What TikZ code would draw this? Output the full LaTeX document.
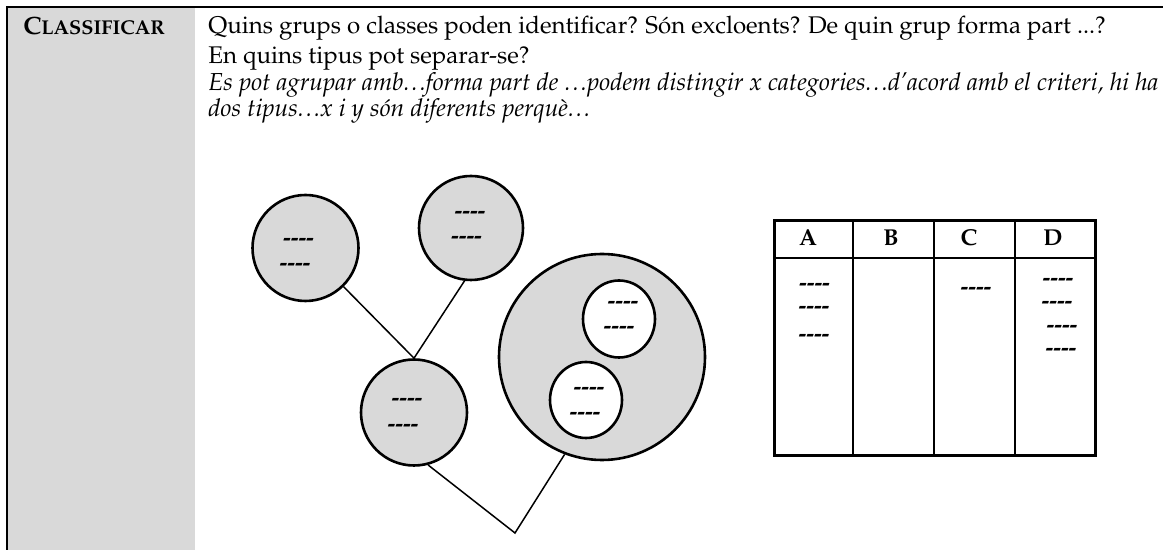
\documentclass[tikz,border=0pt]{standalone}
\usepackage[T1]{fontenc}
\usepackage{mathpazo}
\usetikzlibrary{shapes.geometric}
\definecolor{cellgray}{HTML}{D9D9D9}
\newcommand{\blanks}{\textbf{-{}-{}-{}-}}
\newcommand{\etc}{.\kern.08em.\kern.08em.}

\begin{document}
\begin{tikzpicture}[x=0.5pt,y=-0.5pt,
    txt/.style={anchor=base west,inner sep=0pt,font=\fontsize{12.05}{14}\selectfont},
    note/.style={txt,font=\fontsize{12.3}{14}\selectfont\itshape},
    group/.style={circle,draw,line width=1.3pt,fill=cellgray,inner sep=0pt},
    subgroup/.style={ellipse,draw,line width=1.3pt,fill=white,inner sep=0pt,
      minimum width=36pt,minimum height=38.5pt},
    blank/.style={anchor=mid,inner sep=0pt,font=\fontsize{11.6}{13}\selectfont},
    branch/.style={line width=0.75pt},
    head/.style={anchor=base,inner sep=0pt,font=\fontsize{11.5}{13}\selectfont\bfseries}]
  \useasboundingbox (0,0) rectangle (1163,550);
  % left cell and frame
  \fill[cellgray] (8,8) rectangle (195,550);
  \draw[line width=1.1pt] (7,550) -- (7,7) -- (1163,7);
  \node[anchor=base west,inner sep=0pt] (title) at (23,35)
    {\bfseries\fontsize{12.5}{14}\selectfont C\fontsize{10}{12}\selectfont LASSIFICAR};
  % questions
  \node[txt] (q1) at (208,34) {Quins grups o classes poden identificar? S\'on excloents? De quin grup forma part ...?};
  \node[txt] (q2) at (208,64) {En quins tipus pot separar-se?};
  \node[note] (q3) at (208,91) {Es pot agrupar amb\etc forma part de \etc podem distingir x categories\etc d'acord amb el criteri, hi ha};
  \node[note] (q4) at (208,117) {dos tipus\etc x i y s\'on diferents perqu\`e\etc};
  % tree of groups
  \node[group,minimum size=53pt] (c1) at (305.5,248) {};
  \node[group,minimum size=52pt] (c2) at (471,228) {};
  \node[group,minimum size=53pt] (c3) at (414,412.5) {};
  \node[group,minimum size=103pt] (big) at (602,357) {};
  \node[subgroup] (s1) at (619,319) {};
  \node[subgroup,minimum height=38pt] (s2) at (586,400) {};
  \coordinate (apex) at (515,533);
  \draw[branch] (c1) -- (c3.north);
  \draw[branch] (c2.-97) -- (c3.north);
  \draw[branch] (c3.-75) -- (apex) -- (big.-111);
  \node[blank] (c1a) at (298.5,241) {\blanks};
  \node[blank] (c1b) at (295,266) {\blanks};
  \node[blank] (c2a) at (470,214) {\blanks};
  \node[blank] (c2b) at (466.5,239) {\blanks};
  \node[blank] (c3a) at (407,401) {\blanks};
  \node[blank] (c3b) at (403,426.5) {\blanks};
  \node[blank] (s1a) at (623,304) {\blanks};
  \node[blank] (s1b) at (619,329) {\blanks};
  \node[blank] (s2a) at (589,390) {\blanks};
  \node[blank] (s2b) at (585,415) {\blanks};
  % table
  \draw[line width=1.5pt] (774,221) rectangle (1095,456);
  \draw[line width=1pt] (774,258) -- (1095,258);
  \foreach \x in {853,934,1015}
    \draw[line width=1pt] (\x,221) -- (\x,456);
  \foreach \l/\x in {A/808,B/891,C/969,D/1053}
    \node[head] (h\l) at (\x,246) {\l};
  \node[blank] (tA1) at (814.5,286) {\blanks};
  \node[blank] (tA2) at (814,309) {\blanks};
  \node[blank] (tA3) at (814,337) {\blanks};
  \node[blank] (tC1) at (976,290) {\blanks};
  \node[blank] (tD1) at (1058,281) {\blanks};
  \node[blank] (tD2) at (1057,304) {\blanks};
  \node[blank] (tD3) at (1062,328) {\blanks};
  \node[blank] (tD4) at (1061,351) {\blanks};
\end{tikzpicture}
\end{document}
